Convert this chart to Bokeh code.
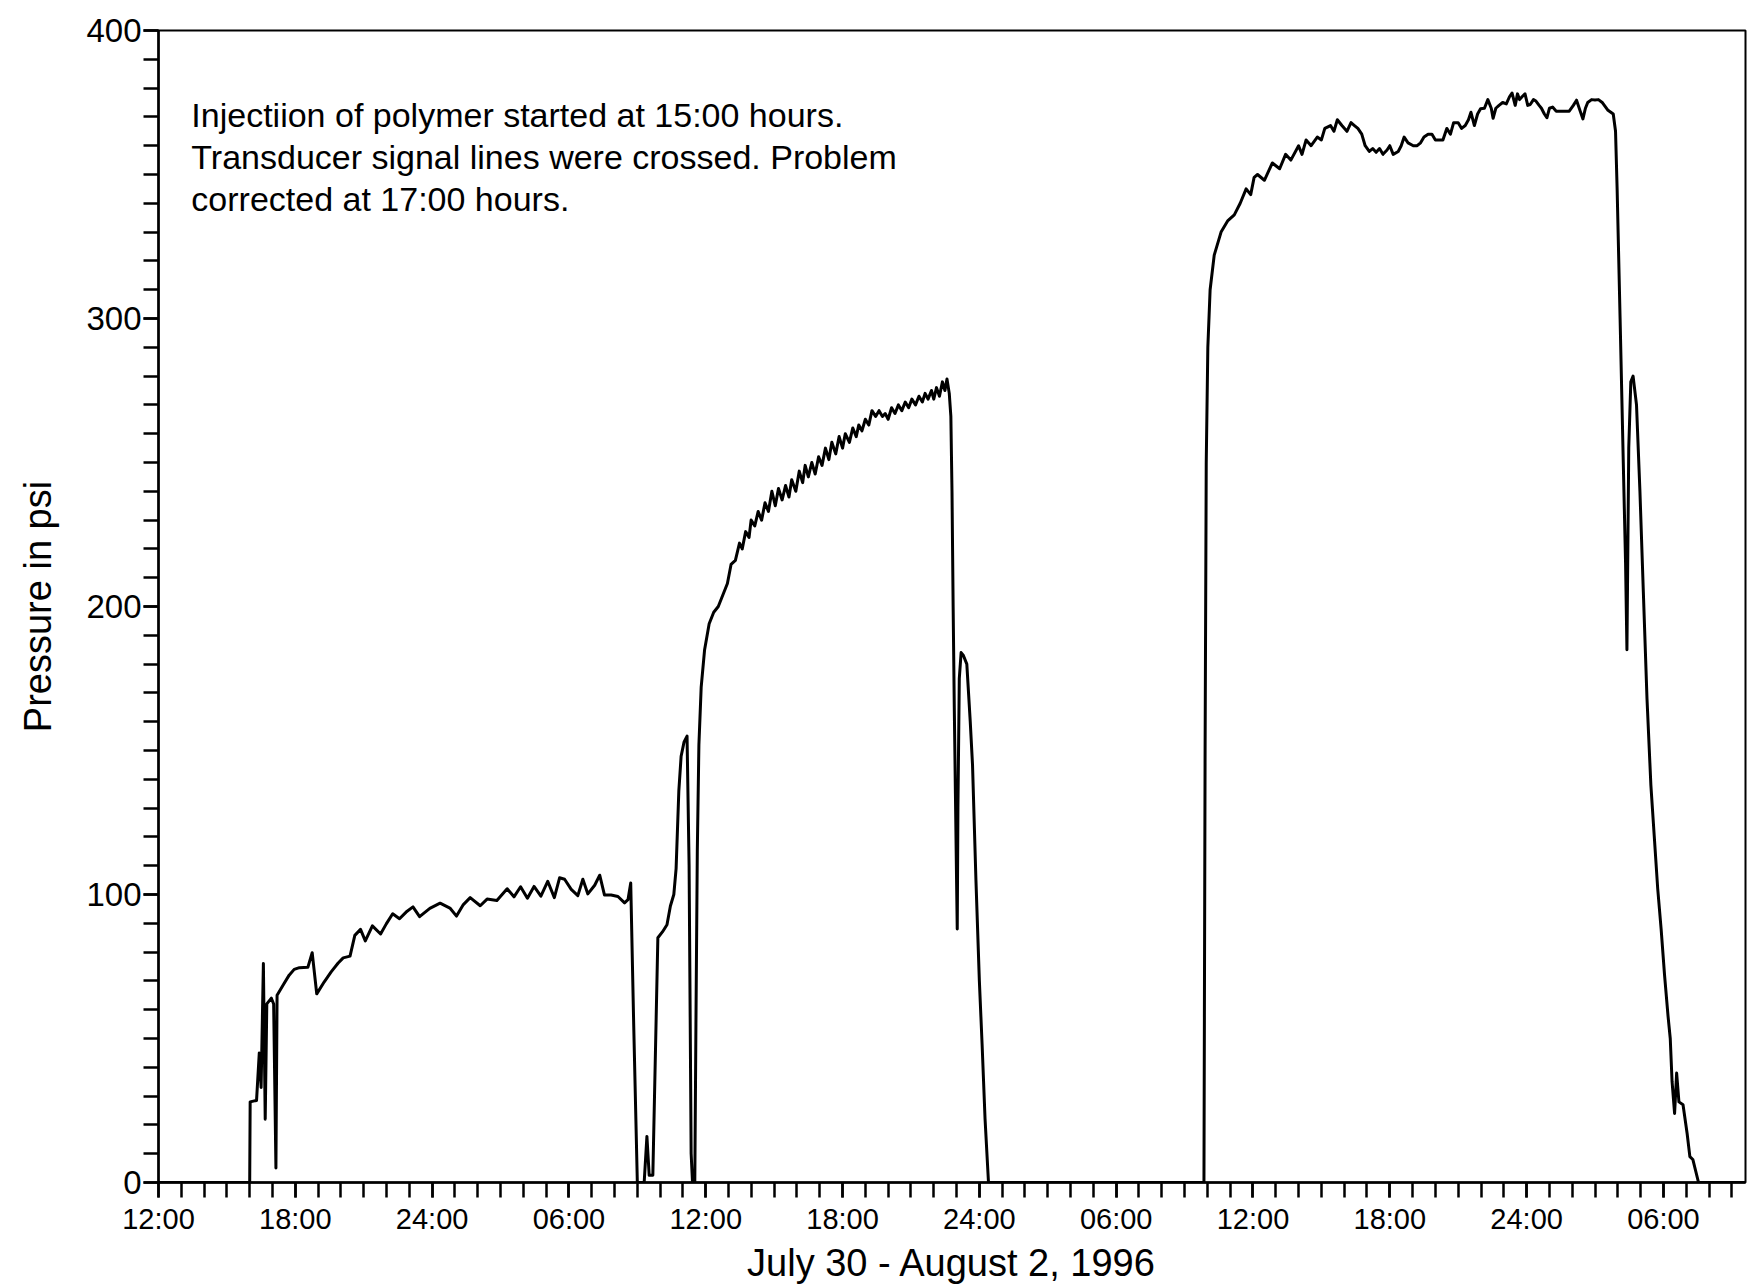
from bokeh.plotting import figure
from bokeh.models import Range1d, FixedTicker, Label
from bokeh.embed import file_html
from bokeh.resources import INLINE

# hours since 12:00 July 30, 1996
tick_hours = list(range(0, 67, 6))
tick_labels = ["12:00", "18:00", "24:00", "06:00", "12:00", "18:00", "24:00",
               "06:00", "12:00", "18:00", "24:00", "06:00"]

hours = [0, 4.0, 4.02, 4.3, 4.42, 4.5, 4.6, 4.68, 4.75, 4.95, 5.05, 5.15, 5.2, 5.5, 5.73, 5.95,
         6.18, 6.55, 6.74, 6.94, 7.27, 7.58, 7.88, 8.1, 8.4, 8.61, 8.86, 9.07, 9.38, 9.74, 9.99,
         10.27, 10.57, 10.86, 11.16, 11.45, 11.9, 12.35, 12.78, 13.07, 13.37, 13.67, 14.11, 14.41,
         14.84, 15.29, 15.59, 15.88, 16.18, 16.47, 16.77, 17.07, 17.36, 17.59, 17.81, 18.1, 18.39,
         18.61, 18.83, 19.13, 19.35, 19.56, 19.85, 20.15, 20.44, 20.59, 20.71, 20.84, 21.0,
         21.3, 21.42, 21.52, 21.68, 21.9, 22.1, 22.3, 22.45, 22.6, 22.7, 22.82, 22.92, 23.05, 23.18,
         23.27, 23.36, 23.42, 23.52, 23.57, 23.63, 23.7, 23.8, 23.95, 24.15, 24.35, 24.55, 24.75,
         24.95, 25.11, 25.3, 25.48, 25.6, 25.75, 25.9, 25.99, 26.15, 26.3, 26.45, 26.6, 26.75, 26.9,
         27.05, 27.19, 27.35, 27.5, 27.65, 27.77, 27.95, 28.1, 28.25, 28.36, 28.5, 28.65, 28.8,
         28.95, 29.1, 29.25, 29.4, 29.53, 29.7, 29.85, 30.0, 30.12, 30.3, 30.45, 30.6, 30.71, 30.85,
         31.0, 31.15, 31.29, 31.45, 31.6, 31.75, 31.87, 32.0, 32.15, 32.3, 32.45, 32.6, 32.75, 32.9,
         33.04, 33.2, 33.35, 33.5, 33.62, 33.75, 33.9, 34.0, 34.12, 34.25, 34.38, 34.49, 34.58,
         34.68, 34.75, 34.8, 34.85, 34.9, 34.95, 35.0, 35.03, 35.06, 35.12, 35.2, 35.3, 35.45,
         35.6, 35.7, 35.85, 36.0, 36.12, 36.25, 36.4,
         45.85, 45.9, 45.95, 46.02, 46.12, 46.3, 46.6, 46.9, 47.18, 47.44, 47.7, 47.9, 48.05, 48.2, 48.5,
         48.85, 49.17, 49.43, 49.66, 50.0, 50.15, 50.33, 50.55, 50.82, 51.0, 51.15, 51.4, 51.55,
         51.7, 51.9, 52.12, 52.3, 52.45, 52.6, 52.77, 52.92, 53.1, 53.25, 53.4, 53.55, 53.7, 53.88,
         54.0, 54.15, 54.37, 54.5, 54.63, 54.8, 55.03, 55.2, 55.35, 55.5, 55.68, 55.85, 56.0, 56.33,
         56.5, 56.66, 56.8, 57.0, 57.15, 57.31, 57.45, 57.56, 57.71, 57.85, 57.98, 58.15, 58.3,
         58.45, 58.53, 58.65, 58.79, 58.95, 59.11, 59.25, 59.36, 59.5, 59.6, 59.69, 59.8, 59.93,
         60.05, 60.16, 60.3, 60.41, 60.55, 60.65, 60.78, 60.89, 61.0, 61.14, 61.3, 61.54, 61.87,
         62.05, 62.19, 62.35, 62.47, 62.58, 62.68, 62.85, 63.0, 63.15, 63.33,
         63.57, 63.8, 63.9, 63.97, 64.1, 64.24, 64.34, 64.4, 64.48, 64.57, 64.67, 64.82, 64.97,
         65.12, 65.28, 65.45, 65.6, 65.75, 65.9, 66.05, 66.2, 66.3, 66.38, 66.49, 66.58, 66.68,
         66.86, 67.04, 67.16, 67.29, 67.54, 69.6]

psi = [0, 0, 28, 28.5, 45, 33, 76, 22, 62, 64, 62, 5, 65, 69, 72, 74,
       74.6, 74.7, 79.8, 65.5, 69.7, 73.2, 76.2, 78, 78.6, 85.8, 87.9, 83.9, 89.1, 86.3, 89.8,
       93.3, 91.6, 93.9, 95.7, 92.3, 95.2, 97, 95.3, 92.5, 96.5, 98.9, 96.1, 98.4,
       97.9, 102, 99.2, 102.7, 98.7, 102.8, 99.4, 104.6, 98.9, 105.8, 105.3, 101.8, 99.6,
       105.3, 100.2, 103.2, 106.7, 99.8, 99.8, 99.3, 97.1, 98.2, 104, 55, 0,
       0, 16, 2.5, 2.5, 85, 87, 89.5, 96, 100, 109, 136, 148, 153, 155,
       110, 10, 0, 0, 55, 115, 152, 172, 185, 194, 198, 200, 204,
       208, 214.6, 216, 222, 220, 226, 224, 230, 228, 233, 230, 236, 233, 240,
       235, 241, 237, 242, 238, 244, 240, 247, 243, 249, 245, 250, 246,
       252, 249, 255, 251, 257, 253, 259, 255, 260, 257, 262, 259, 263, 261,
       265, 263, 268, 266, 268, 266, 267, 265, 269, 267, 270, 268, 271, 269,
       272, 270, 273, 271, 274, 272, 275, 272, 276, 273, 278, 275, 279,
       274, 266, 240, 200, 165, 135, 105, 88, 130, 175, 184, 183, 180,
       160, 145, 105, 70, 48, 22, 0,
       0, 150, 250, 290, 310, 322, 330, 334, 336, 340, 345, 343, 349, 350, 348,
       354, 352, 357, 355, 360, 357, 362, 360, 363, 362, 366, 367, 365,
       369, 367, 365, 368, 367, 366, 364, 360, 358, 359, 357.7, 359, 357, 358.5,
       360, 357, 358, 360, 363, 361, 360, 360, 361, 363, 364, 364, 362, 362,
       366, 364, 368, 368, 366, 367, 369, 371.6, 367, 371, 372.8, 373, 376,
       373, 369.5, 373, 374, 375, 374.5, 377, 378.3, 374, 378, 376, 377, 378,
       374, 374.3, 376, 375.5, 374, 373, 371, 369.7, 373, 373.4, 372, 372, 372,
       374, 375.8, 372, 369.3, 373, 375, 376, 375.9, 376, 374.9,
       372.3, 371, 365, 345, 300, 250, 215, 185, 255, 278, 280, 270, 240,
       205, 168, 138, 120, 102, 88, 72, 58, 50, 35, 24, 38, 28,
       27, 17, 9, 8, 0, 0]

note_lines = ["Injectiion of polymer started at 15:00 hours.",
              "Transducer signal lines were crossed. Problem",
              "corrected at 17:00 hours."]

FONT = "Liberation Sans"

p = figure(width=1760, height=1286, x_range=Range1d(0, 69.6), y_range=Range1d(0, 400),
           output_backend="svg", toolbar_location=None,
           min_border_left=158, min_border_right=15, min_border_top=30, min_border_bottom=101)

p.background_fill_color = "white"
p.border_fill_color = "white"
p.grid.visible = False
p.outline_line_color = "black"
p.outline_line_width = 2

p.line(hours, psi, line_color="black", line_width=3, line_join="round")

xa = p.xaxis[0]
xa.ticker = FixedTicker(ticks=tick_hours, minor_ticks=list(range(0, 70)))
xa.major_label_overrides = {h: l for h, l in zip(tick_hours, tick_labels)}
xa.axis_label = "July 30 - August 2, 1996"
ya = p.yaxis[0]
ya.ticker = FixedTicker(ticks=[0, 100, 200, 300, 400], minor_ticks=list(range(0, 401, 10)))
ya.axis_label = "Pressure in psi"

for ax in (xa, ya):
    ax.axis_line_color = "black"
    ax.axis_line_width = 2.5
    ax.major_tick_line_color = "black"
    ax.minor_tick_line_color = "black"
    ax.major_tick_line_width = 2.5
    ax.minor_tick_line_width = 2.5
    ax.major_tick_in = 0
    ax.minor_tick_in = 0
    ax.major_tick_out = 15
    ax.minor_tick_out = 15
    ax.major_label_text_font = FONT
    ax.major_label_text_color = "black"
    ax.axis_label_text_font = FONT
    ax.axis_label_text_font_style = "normal"
    ax.axis_label_text_color = "black"

xa.major_label_text_font_size = "29px"
xa.major_label_standoff = 5
xa.axis_label_text_font_size = "38px"
xa.axis_label_standoff = 4
ya.major_label_text_font_size = "33px"
ya.major_label_standoff = 2
ya.axis_label_text_font_size = "38px"
ya.axis_label_standoff = 24

note_y = [370.5, 356, 341.5]
for txt, yy in zip(note_lines, note_y):
    p.add_layout(Label(x=1.44, y=yy, text=txt, text_font=FONT, text_font_size="34px",
                       text_color="black", text_baseline="middle", text_align="left"))

open("out.html", "w").write(file_html(p, INLINE))
